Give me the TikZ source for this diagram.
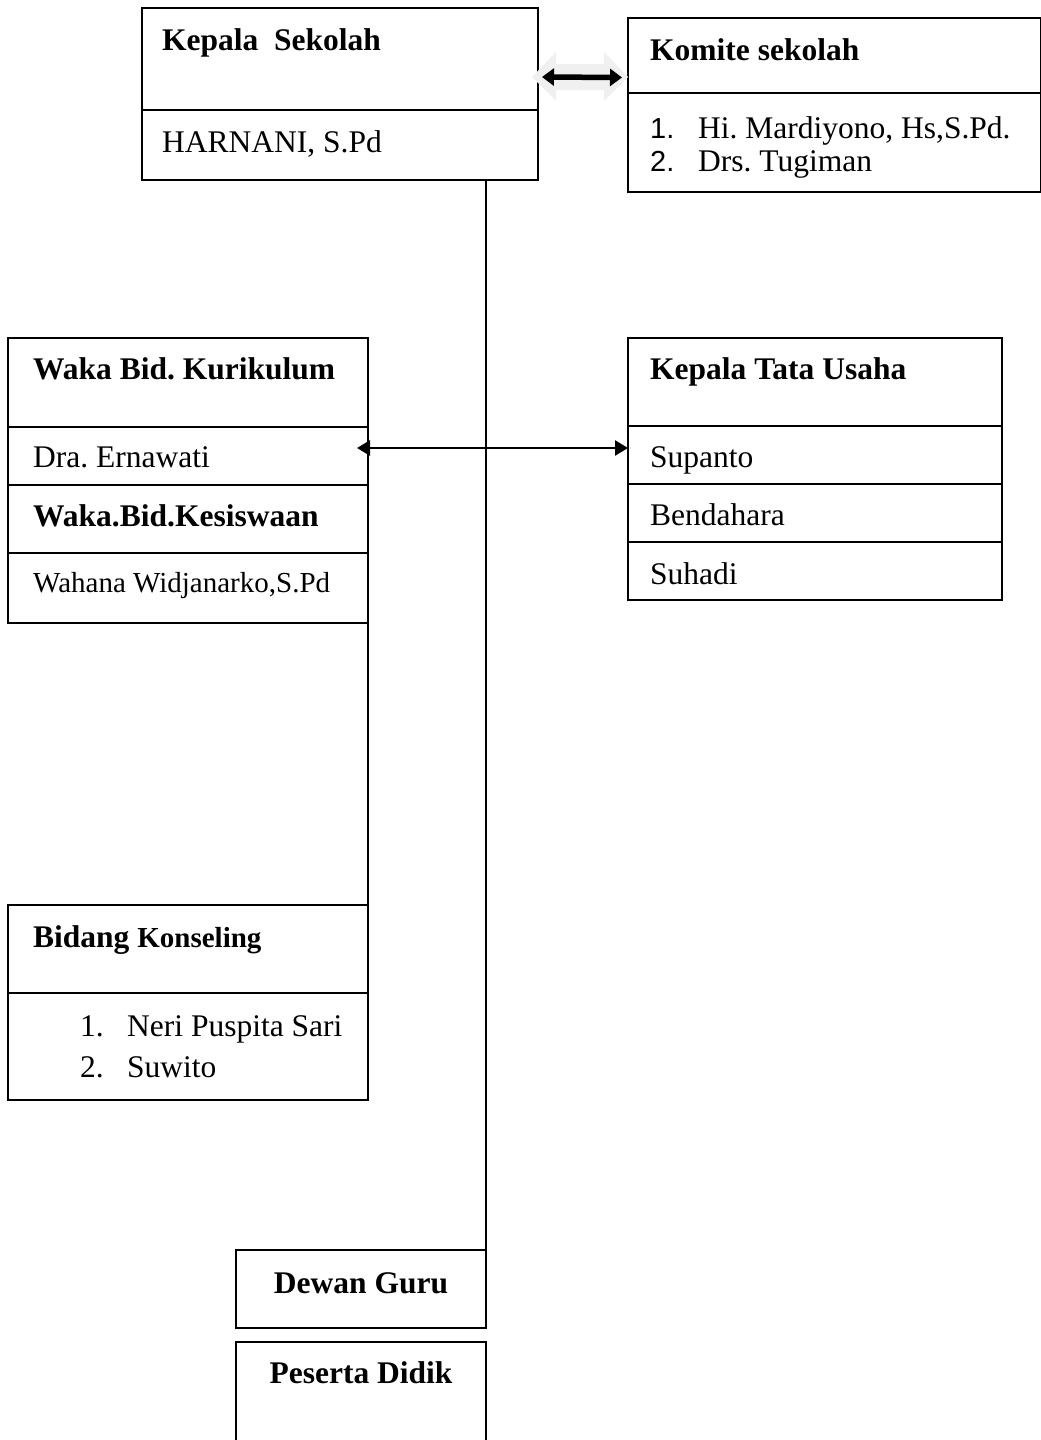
\documentclass[tikz,border=0pt]{standalone}
\usepackage{fontspec}
\setmainfont{Liberation Serif}
\setsansfont{Liberation Sans}
\usetikzlibrary{arrows.meta}
\frenchspacing

\begin{document}
\begin{tikzpicture}[x=1pt,y=-1pt,
    cell/.style={draw,line width=1.9pt,anchor=north west,inner sep=0pt,outer sep=0pt},
    lbl/.style={anchor=base west,inner sep=0pt,font=\fontsize{31.5}{38}\selectfont},
    sml/.style={lbl,font=\fontsize{29}{35}\selectfont},
    hd/.style={lbl,font=\fontsize{31.5}{38}\selectfont\bfseries}]
        \useasboundingbox (0,0) rectangle (1041,1440);

        % kepala sekolah & komite
        \node[cell,minimum width=396pt,minimum height=102pt] (ksHead) at (142,8) {};
        \node[cell,minimum width=396pt,minimum height=70pt] (ksName) at (142,110) {};
        \node[cell,minimum width=413pt,minimum height=75pt] (kmHead) at (628,18) {};
        \node[cell,minimum width=413pt,minimum height=99pt] (kmList) at (628,93) {};
        \node[hd] (ksTitle) at (162,50) {Kepala\ \ Sekolah};
        \node[lbl] (ksTxt) at (162,152) {HARNANI, S.Pd};
        \node[hd] (kmTitle) at (650,60) {Komite sekolah};
        \node[lbl,font=\sffamily\fontsize{29}{35}\selectfont] (kmNumA) at (650,138) {1.};
        \node[lbl] (kmTxtA) at (698,138) {Hi. Mardiyono, Hs,S.Pd.};
        \node[lbl,font=\sffamily\fontsize{29}{35}\selectfont] (kmNumB) at (650,171) {2.};
        \node[lbl] (kmTxtB) at (698,171) {Drs. Tugiman};

        % wakil kepala
        \node[cell,minimum width=360pt,minimum height=89pt] (kurHead) at (8,338) {};
        \node[cell,minimum width=360pt,minimum height=58pt] (kurName) at (8,427) {};
        \node[cell,minimum width=360pt,minimum height=68pt] (kesHead) at (8,485) {};
        \node[cell,minimum width=360pt,minimum height=70pt] (kesName) at (8,553) {};
        \node[hd] (kurTitle) at (33,379) {Waka Bid. Kurikulum};
        \node[lbl] (kurTxt) at (33,467) {Dra. Ernawati};
        \node[hd] (kesTitle) at (33,526) {Waka.Bid.Kesiswaan};
        \node[sml] (kesTxt) at (33,592) {Wahana Widjanarko,S.Pd};

        % tata usaha
        \node[cell,minimum width=374pt,minimum height=88pt] (tuHead) at (628,338) {};
        \node[cell,minimum width=374pt,minimum height=58pt] (tuName) at (628,426) {};
        \node[cell,minimum width=374pt,minimum height=58pt] (bdHead) at (628,484) {};
        \node[cell,minimum width=374pt,minimum height=58pt] (bdName) at (628,542) {};
        \node[hd] (tuTitle) at (650,379) {Kepala Tata Usaha};
        \node[lbl] (tuTxt) at (650,467) {Supanto};
        \node[lbl] (bdTitle) at (650,525) {Bendahara};
        \node[lbl] (bdTxt) at (650,584) {Suhadi};

        % konseling
        \node[cell,minimum width=360pt,minimum height=88pt] (bkHead) at (8,905) {};
        \node[cell,minimum width=360pt,minimum height=107pt] (bkList) at (8,993) {};
        \node[hd] (bkTitle) at (33,947) {Bidang {\fontsize{29}{35}\selectfont Konseling}};
        \node[lbl] (bkNumA) at (80,1036) {1.};
        \node[lbl] (bkTxtA) at (127,1036) {Neri Puspita Sari};
        \node[lbl] (bkNumB) at (80,1077) {2.};
        \node[lbl] (bkTxtB) at (127,1077) {Suwito};

        % guru & siswa
        \node[cell,minimum width=250pt,minimum height=78pt] (guru) at (236,1250) {};
        \node[cell,minimum width=250pt,minimum height=110pt] (didik) at (236,1342) {};
        \node[hd,anchor=base] (guruTxt) at ([yshift=-43pt]guru.north) {Dewan Guru};
        \node[hd,anchor=base] (didikTxt) at ([yshift=-41pt]didik.north) {Peserta Didik};

        % garis
        \fill[gray!12] (532,77) -- (556,52) -- (556,64) -- (604,64) -- (604,52) -- (628,77)
            -- (604,101) -- (604,90) -- (556,90) -- (556,101) -- cycle;
        \draw[line width=5.5pt,{Triangle[length=12pt,width=17pt]}-{Triangle[length=12pt,width=17pt]}]
            ([xshift=4pt,yshift=-18pt]ksHead.east) -- ([xshift=-6pt,yshift=-22pt]kmHead.west);
        \draw[line width=1.9pt] (guru.north east) -- (guru.north east |- ksName.south);
        \draw[line width=2.5pt,{Triangle[length=13pt,width=15pt]}-{Triangle[length=13pt,width=15pt]}]
            ([xshift=-11pt,yshift=8pt]kurName.east) -- ([yshift=8pt]kurName.east -| tuName.west);
        \draw[line width=1.9pt] (kesName.south east) -- (bkHead.north east);
    \end{tikzpicture}
\end{document}
